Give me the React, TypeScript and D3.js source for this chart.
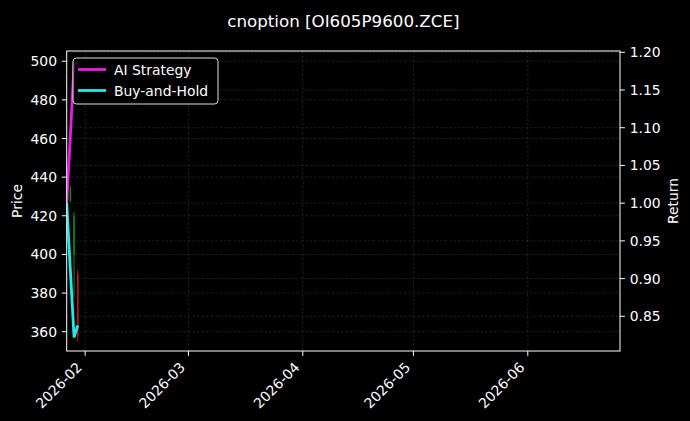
import React from "react";
import * as d3 from "d3";

const W = 690;
const H = 421;
const M = { left: 66.7, right: 620, top: 51, bottom: 351 };

const candleDates = ["2026-01-28", "2026-01-29", "2026-01-30"];
const candleOpen = [428, 400, 390];
const candleHigh = [435.5, 422, 392];
const candleLow = [427, 378, 355];
const candleClose = [434, 420, 358];

const lineDates = ["2026-01-27", "2026-01-28", "2026-01-29", "2026-01-30"];
const aiStrategy = [1.0, 1.09, 1.186, 1.186];
const buyHold = [1.0, 0.91, 0.822, 0.838];

const xDomain = ["2026-01-27", "2026-06-26"];
const xTicks = ["2026-02-01", "2026-03-01", "2026-04-01", "2026-05-01", "2026-06-01"];
const xTickLabels = ["2026-02", "2026-03", "2026-04", "2026-05", "2026-06"];
const priceDomain = [350, 505.3];
const priceTicks = [360, 380, 400, 420, 440, 460, 480, 500];
const returnDomain = [0.804, 1.2017];
const returnTicks = [0.85, 0.9, 0.95, 1.0, 1.05, 1.1, 1.15, 1.2];

const parse = d3.utcParse("%Y-%m-%d");
const FONT = "DejaVu Sans, sans-serif";

export default function App() {
  React.useEffect(() => {
    document.body.style.margin = "0";
    document.body.style.background = "#000";
  }, []);

  const x = d3.scaleUtc().domain(xDomain.map((d) => parse(d)!)).range([M.left, M.right]);
  const yP = d3.scaleLinear().domain(priceDomain).range([M.bottom, M.top]);
  const yR = d3.scaleLinear().domain(returnDomain).range([M.bottom, M.top]);

  const lineGen = d3
    .line<number>()
    .x((_, i) => x(parse(lineDates[i])!))
    .y((v) => yR(v));

  const dayPx = x(parse("2026-01-28")!) - x(parse("2026-01-27")!);
  const bodyW = dayPx * 0.4;
  const tl = 4.86;
  const pad = 4.86;

  return (
    <div style={{ position: "absolute", left: 0, top: 0, width: W, height: H, background: "#000" }}>
      <svg width={W} height={H} style={{ display: "block", background: "#000" }}>
        <defs>
          <clipPath id="plot">
            <rect x={M.left} y={M.top} width={M.right - M.left} height={M.bottom - M.top} />
          </clipPath>
        </defs>
        <rect x={0} y={0} width={W} height={H} fill="#000" />
        {/* grid */}
        <g stroke="#808080" strokeOpacity={0.4} strokeWidth={0.6} strokeDasharray="2.5,2">
          {xTicks.map((t) => (
            <line key={"gx" + t} x1={x(parse(t)!)} x2={x(parse(t)!)} y1={M.top} y2={M.bottom} />
          ))}
          {priceTicks.map((t) => (
            <line key={"gp" + t} x1={M.left} x2={M.right} y1={yP(t)} y2={yP(t)} />
          ))}
          {returnTicks.map((t) => (
            <line key={"gr" + t} x1={M.left} x2={M.right} y1={yR(t)} y2={yR(t)} />
          ))}
        </g>
        {/* candles */}
        <g clipPath="url(#plot)">
          {candleDates.map((d, i) => {
            const cx = x(parse(d)!);
            const up = candleClose[i] >= candleOpen[i];
            const col = up ? "#1f9a1f" : "#e01818";
            const top = yP(Math.max(candleOpen[i], candleClose[i]));
            const bot = yP(Math.min(candleOpen[i], candleClose[i]));
            return (
              <g key={d} opacity={0.85}>
                <line x1={cx} x2={cx} y1={yP(candleHigh[i])} y2={yP(candleLow[i])} stroke={col} strokeWidth={1} />
                <rect x={cx - bodyW / 2} y={top} width={bodyW} height={Math.max(1, bot - top)} fill={col} />
              </g>
            );
          })}
          <path d={lineGen(buyHold) || ""} fill="none" stroke="#22e8e8" strokeWidth={2.8} />
          <path d={lineGen(aiStrategy) || ""} fill="none" stroke="#e61ee6" strokeWidth={2.8} />
        </g>
        {/* spines */}
        <rect x={M.left} y={M.top} width={M.right - M.left} height={M.bottom - M.top} fill="none" stroke="#fff" strokeWidth={1} />
        {/* axes */}
        <g fontFamily={FONT} fontSize={13.9} fill="#fff">
          {priceTicks.map((t) => (
            <g key={"lp" + t}>
              <line x1={M.left - tl} x2={M.left} y1={yP(t)} y2={yP(t)} stroke="#fff" strokeWidth={1} />
              <text x={M.left - tl - pad} y={yP(t)} textAnchor="end" dominantBaseline="central">
                {t}
              </text>
            </g>
          ))}
          {returnTicks.map((t) => (
            <g key={"rr" + t}>
              <line x1={M.right} x2={M.right + tl} y1={yR(t)} y2={yR(t)} stroke="#fff" strokeWidth={1} />
              <text x={M.right + tl + pad} y={yR(t)} textAnchor="start" dominantBaseline="central">
                {t.toFixed(2)}
              </text>
            </g>
          ))}
          {xTicks.map((t, i) => {
            const tx = x(parse(t)!);
            return (
              <g key={"xt" + t}>
                <line x1={tx} x2={tx} y1={M.bottom} y2={M.bottom + tl} stroke="#fff" strokeWidth={1} />
                <text
                  transform={`translate(${tx - 2.3},${M.bottom + tl + pad + 7.5}) rotate(-45)`}
                  textAnchor="end"
                >
                  {xTickLabels[i]}
                </text>
              </g>
            );
          })}
          <text transform={`translate(17,${(M.top + M.bottom) / 2}) rotate(-90)`} textAnchor="middle" dominantBaseline="central">
            Price
          </text>
          <text transform={`translate(673,${(M.top + M.bottom) / 2}) rotate(-90)`} textAnchor="middle" dominantBaseline="central">
            Return
          </text>
          <text x={(M.left + M.right) / 2} y={27} textAnchor="middle" fontSize={16.7}>
            cnoption [OI605P9600.ZCE]
          </text>
        </g>
        {/* legend */}
        <g fontFamily={FONT} fontSize={13.9}>
          <rect x={73} y={58} width={145} height={46} rx={3.5} fill="#000" fillOpacity={0.8} stroke="#e0e0e0" strokeWidth={1} />
          <line x1={78} x2={106} y1={69.5} y2={69.5} stroke="#e61ee6" strokeWidth={2.8} />
          <text x={114} y={69.5} fill="#fff" dominantBaseline="central">AI Strategy</text>
          <line x1={78} x2={106} y1={90.5} y2={90.5} stroke="#22e8e8" strokeWidth={2.8} />
          <text x={114} y={90.5} fill="#fff" dominantBaseline="central">Buy-and-Hold</text>
        </g>
      </svg>
    </div>
  );
}
